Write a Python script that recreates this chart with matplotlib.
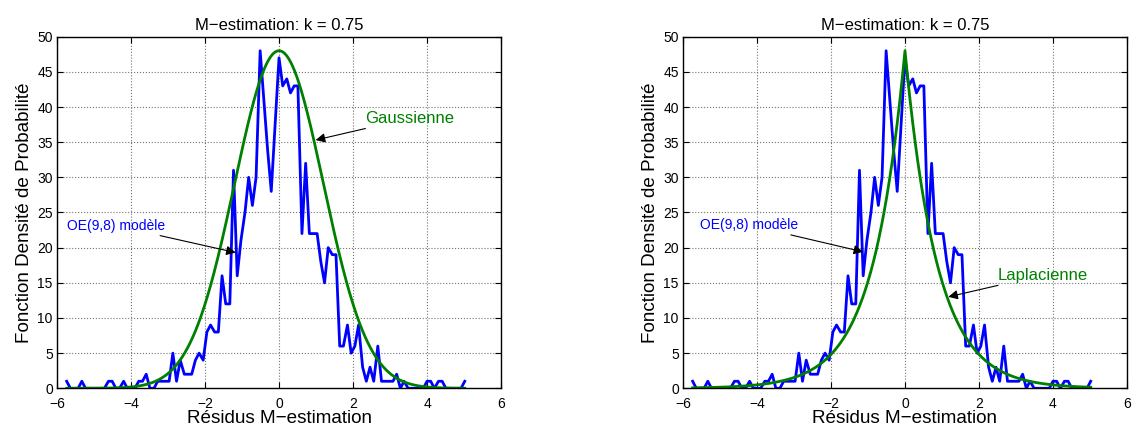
#!/usr/bin/env python3
"""
Densité des résidus M-estimation : comparaison gaussienne / laplacienne
"""

import numpy as np
import matplotlib
matplotlib.use('Agg')
import matplotlib.pyplot as plt

plt.rcParams['font.family'] = ['Liberation Sans', 'DejaVu Sans']

# Centres des classes de l'histogramme des résidus
residus = [-5.74, -5.64, -5.54, -5.43, -5.33, -5.23, -5.13, -5.02, -4.92, -4.82,
           -4.72, -4.61, -4.51, -4.41, -4.31, -4.20, -4.10, -4.00, -3.90, -3.79,
           -3.69, -3.59, -3.49, -3.38, -3.28, -3.18, -3.08, -2.97, -2.87, -2.77,
           -2.67, -2.56, -2.46, -2.36, -2.26, -2.16, -2.05, -1.95, -1.85, -1.74,
           -1.64, -1.54, -1.44, -1.33, -1.23, -1.13, -1.03, -0.92, -0.82, -0.72,
           -0.62, -0.51, -0.41, -0.31, -0.21, -0.10, 0.00, 0.10, 0.21, 0.31,
           0.41, 0.51, 0.62, 0.72, 0.82, 0.92, 1.03, 1.13, 1.23, 1.33,
           1.44, 1.54, 1.64, 1.74, 1.85, 1.95, 2.05, 2.15, 2.26, 2.36,
           2.46, 2.56, 2.67, 2.77, 2.87, 2.97, 3.08, 3.18, 3.28, 3.38,
           3.49, 3.59, 3.69, 3.79, 3.90, 4.00, 4.10, 4.20, 4.31, 4.41,
           4.51, 4.61, 4.72, 4.82, 4.92, 5.02]

# Effectifs par classe (modèle OE(9,8))
effectifs = [1, 0, 0, 0, 1, 0, 0, 0, 0, 0,
             0, 1, 1, 0, 0, 1, 0, 0, 0, 1,
             1, 2, 0, 0, 1, 1, 1, 1, 5, 1,
             4, 2, 2, 2, 4, 5, 4, 8, 9, 8,
             8, 16, 12, 12, 31, 16, 21, 25, 30, 26,
             30, 48, 41, 34, 28, 38, 47, 43, 44, 42,
             43, 43, 22, 32, 22, 22, 22, 18, 15, 20,
             19, 19, 6, 6, 9, 5, 6, 9, 3, 1,
             3, 1, 6, 1, 1, 1, 1, 2, 0, 1,
             0, 0, 0, 0, 0, 1, 1, 0, 1, 1,
             0, 0, 0, 0, 0, 1]

# Paramètres des lois ajustées
pic = 48.0
sigma_gauss = 1.2
b_laplace = 0.87

titre = 'M\u2212estimation: k = 0.75'
xlabel = 'Résidus M\u2212estimation'
ylabel = 'Fonction Densité de Probabilité'

BLEU = (0, 0, 1)
VERT = (0, 0.5, 0)


def mise_en_forme(ax):
    ax.set_xlim(-6, 6)
    ax.set_ylim(0, 50)
    ax.set_xticks(np.arange(-6, 7, 2))
    ax.set_yticks(np.arange(0, 51, 5))
    ax.tick_params(direction='in', top=True, right=True, labelsize=10, length=4)
    ax.tick_params(axis='x', pad=6.5)
    ax.tick_params(axis='y', pad=3)
    ax.grid(True, linestyle=':', color='0.45', linewidth=0.8)
    ax.set_title(titre, fontsize=12, pad=5)
    ax.set_xlabel(xlabel, fontsize=13.6, labelpad=-1)
    ax.set_ylabel(ylabel, fontsize=13.6, labelpad=3)
    for s in ax.spines.values():
        s.set_linewidth(1.0)


fig = plt.figure(figsize=(11.34, 4.30), dpi=100)
ax1 = fig.add_axes([0.0503, 0.097, 0.3915, 0.8177])
ax2 = fig.add_axes([0.6023, 0.097, 0.3915, 0.8177])

x = np.array(residus)
xx = np.union1d(np.linspace(x.min(), x.max(), 600), [0.0])
gauss = pic * np.exp(-xx ** 2 / (2 * sigma_gauss ** 2))
laplace = pic * np.exp(-np.abs(xx) / b_laplace)

fleche = dict(arrowstyle='-|>', color='k', lw=0.8, mutation_scale=14,
              shrinkA=0, shrinkB=0)

# Gauche : gaussienne
ax1.plot(x, effectifs, color=BLEU, linewidth=2)
ax1.plot(xx, gauss, color=VERT, linewidth=2)
ax1.annotate('OE(9,8) modèle', xy=(-1.17, 19.3), xytext=(-5.72, 23.1),
             color=BLEU, fontsize=10, va='center', ha='left', arrowprops=fleche)
ax1.annotate('Gaussienne', xy=(0.99, 35.3), xytext=(2.33, 38.4),
             color=VERT, fontsize=12, va='center', ha='left', arrowprops=fleche)
mise_en_forme(ax1)

# Droite : laplacienne
ax2.plot(x, effectifs, color=BLEU, linewidth=2)
ax2.plot(xx, laplace, color=VERT, linewidth=2)
ax2.annotate('OE(9,8) modèle', xy=(-1.13, 19.4), xytext=(-5.54, 23.2),
             color=BLEU, fontsize=10, va='center', ha='left', arrowprops=fleche)
ax2.annotate('Laplacienne', xy=(1.17, 13.0), xytext=(2.5, 16.1),
             color=VERT, fontsize=12, va='center', ha='left', arrowprops=fleche)
mise_en_forme(ax2)

fig.savefig('out.png', dpi=100)
plt.close(fig)
